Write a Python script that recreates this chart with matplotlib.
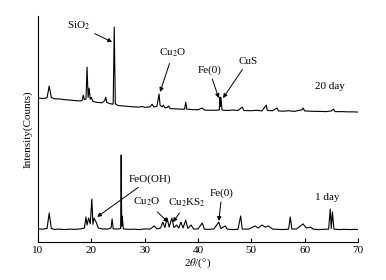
import numpy as np
import matplotlib
matplotlib.use("Agg")
import matplotlib.pyplot as plt

plt.rcParams['font.family'] = ['Liberation Serif', 'DejaVu Serif']
plt.rcParams['mathtext.fontset'] = 'stix'
plt.rcParams['font.size'] = 8

# 20 day pattern: 2theta / counts vertices
theta_20d = [10.0, 11.0, 11.7, 12.1, 12.5, 13.0, 14.0, 15.0, 16.0, 17.0, 18.0, 18.3, 18.5, 18.7,
             19.0, 19.2, 19.4, 19.6, 19.8, 20.0, 20.3, 21.0, 22.0, 22.5, 22.7, 22.9, 23.5, 24.1,
             24.3, 24.5, 25.0, 26.0, 27.0, 28.0, 29.0, 29.5, 30.0, 31.0, 31.4, 31.7, 32.3, 32.7,
             32.9, 33.3, 33.5, 33.8, 34.3, 34.5, 34.8, 35.5, 36.5, 37.5, 37.7, 37.9, 39.0, 40.0,
             40.8, 41.2, 42.0, 43.0, 44.0, 44.1, 44.2, 44.3, 44.5, 45.5, 46.5, 47.5, 48.3, 48.6,
             50.0, 51.0, 52.0, 52.8, 53.0, 54.0, 54.8, 55.1, 56.0, 57.0, 58.0, 59.5, 59.7, 60.0,
             61.0, 62.0, 63.0, 64.0, 65.0, 65.4, 65.7, 67.0, 68.0, 69.0, 70.0]
counts_20d = [637, 635, 638, 690, 640, 634, 633, 630, 628, 626, 624, 628, 650, 630,
              632, 774, 640, 681, 632, 640, 622, 618, 616, 625, 641, 618, 612, 610,
              951, 612, 604, 602, 600, 598, 597, 600, 596, 598, 610, 598, 600, 655,
              605, 598, 606, 594, 596, 602, 590, 590, 588, 588, 619, 588, 586, 585,
              593, 584, 583, 583, 584, 641, 600, 641, 584, 582, 584, 582, 597, 582,
              581, 583, 580, 606, 582, 581, 593, 580, 579, 581, 578, 585, 593, 580,
              579, 578, 578, 577, 580, 588, 577, 577, 576, 576, 575]

# 1 day pattern
theta_1d = [10.0, 11.0, 11.7, 12.1, 12.5, 13.0, 14.0, 15.0, 16.0, 17.0, 18.0, 18.7, 19.0, 19.2,
            19.5, 19.8, 20.1, 20.3, 20.5, 20.9, 21.3, 22.0, 23.0, 23.7, 23.9, 24.1, 25.0, 25.5,
            25.6, 25.7, 25.8, 26.0, 27.0, 28.0, 29.0, 30.0, 31.0, 31.8, 32.3, 33.0, 33.4, 33.8,
            34.2, 34.6, 35.1, 35.5, 36.0, 36.4, 36.8, 37.2, 37.7, 38.1, 38.7, 39.2, 40.0, 40.8,
            41.2, 42.0, 43.0, 43.9, 44.3, 45.1, 45.5, 46.5, 47.5, 48.0, 48.3, 49.5, 50.7, 51.3,
            52.0, 52.6, 53.2, 54.0, 55.0, 56.0, 57.0, 57.3, 57.6, 58.5, 59.7, 60.3, 61.1, 61.6,
            62.5, 63.5, 64.5, 64.8, 65.0, 65.2, 65.5, 66.5, 67.5, 68.5, 69.5, 70.0]
counts_1d = [58, 57, 60, 128, 60, 56, 57, 55, 57, 56, 58, 62, 111, 75,
             106, 80, 190, 78, 106, 88, 62, 58, 57, 62, 102, 58, 57, 60,
             385, 70, 115, 58, 56, 57, 55, 58, 57, 71, 58, 62, 88, 64,
             106, 66, 106, 64, 75, 62, 88, 62, 97, 60, 75, 57, 58, 84,
             57, 56, 58, 88, 60, 71, 57, 55, 56, 115, 57, 57, 71, 62,
             75, 66, 71, 57, 56, 55, 57, 111, 57, 58, 80, 62, 66, 57,
             55, 56, 57, 146, 60, 133, 57, 55, 56, 55, 56, 55]

xticks = [10, 20, 30, 40, 50, 60, 70]

fig = plt.figure(figsize=(3.86, 2.80), dpi=100)
ax = fig.add_axes([0.0984, 0.1357, 0.829, 0.807])

ax.plot(theta_20d, counts_20d, color='black', lw=0.8)
ax.plot(theta_1d, counts_1d, color='black', lw=0.8)

ax.set_xlim(10, 70)
ax.set_ylim(0, 1000)
ax.set_xticks(xticks)
ax.set_yticks([])
ax.tick_params(axis='x', direction='in', length=3, width=0.8, pad=3)
ax.spines['top'].set_visible(False)
ax.spines['right'].set_visible(False)
ax.set_xlabel(r'2$\theta$/(°)', labelpad=1)
ax.set_ylabel('Intensity(Counts)', labelpad=4)

arrow = dict(arrowstyle='-|>', color='black', lw=0.7, mutation_scale=6, shrinkA=1, shrinkB=0)

# 20 day labels
ax.annotate('SiO$_2$', xy=(23.9, 885), xytext=(17.7, 956), ha='center', va='center', arrowprops=arrow)
ax.annotate('Cu$_2$O', xy=(32.9, 664), xytext=(35.3, 836), ha='center', va='center', arrowprops=arrow)
ax.annotate('Fe(0)', xy=(43.9, 637), xytext=(42.1, 761), ha='center', va='center', arrowprops=arrow)
ax.annotate('CuS', xy=(44.7, 637), xytext=(49.4, 801), ha='center', va='center', arrowprops=arrow)
ax.text(64.75, 686, '20 day', ha='center', va='center')

# 1 day labels
ax.annotate('FeO(OH)', xy=(21.1, 111), xytext=(31.0, 279), ha='center', va='center', arrowprops=arrow)
ax.annotate('Cu$_2$O', xy=(34.4, 88), xytext=(30.4, 177), ha='center', va='center', arrowprops=arrow)
ax.annotate('Cu$_2$KS$_2$', xy=(35.3, 88), xytext=(37.9, 173), ha='center', va='center', arrowprops=arrow)
ax.annotate('Fe(0)', xy=(43.9, 93), xytext=(44.5, 217), ha='center', va='center', arrowprops=arrow)
ax.text(64.2, 199, '1 day', ha='center', va='center')

fig.savefig('out.png', dpi=100)
